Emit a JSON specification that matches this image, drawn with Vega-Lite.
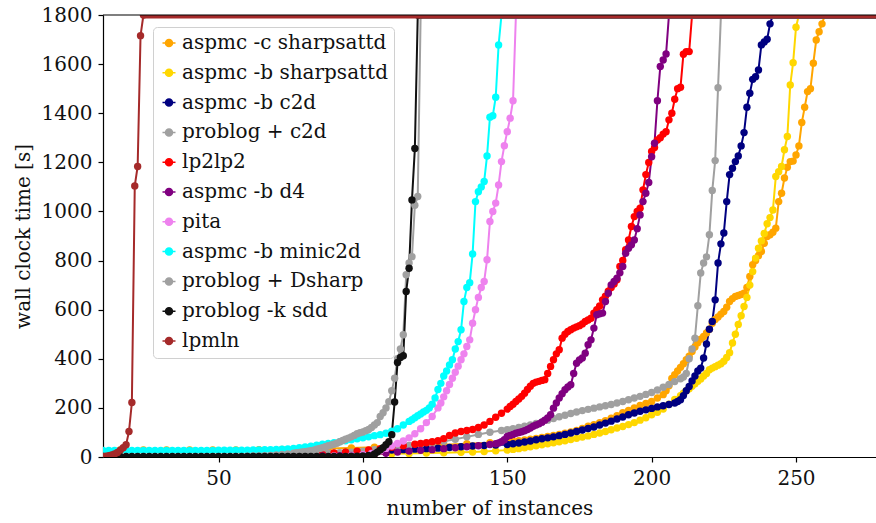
{
"$schema": "https://vega.github.io/schema/vega-lite/v6.json",
"width": 773, "height": 442,
"autosize": {"type": "none"},
"padding": {"left": 103, "top": 15, "right": 0, "bottom": 66},
"background": "white",
"config": {
 "view": {"stroke": null},
 "axis": {"grid": false, "domainColor": "#000000", "domainWidth": 1.2, "tickColor": "#000000", "tickWidth": 1.2, "tickSize": 5, "labelFont": "DejaVu Serif", "labelFontSize": 20, "labelColor": "#111111", "titleFont": "DejaVu Serif", "titleFontSize": 20, "titleFontWeight": "normal", "titleColor": "#111111"},
 "legend": {"orient": "none", "legendX": 50, "legendY": 12, "fillColor": "rgba(255,255,255,0.85)", "strokeColor": "#d0d0d0", "cornerRadius": 4, "padding": 6, "labelFont": "DejaVu Serif", "labelFontSize": 20, "labelLimit": 400, "labelColor": "#111111", "labelOffset": 3, "rowPadding": 9.8, "symbolType": "M-1,0H1M-0.54,0A0.54,0.54,0,1,1,0.54,0A0.54,0.54,0,1,1,-0.54,0Z", "symbolSize": 169, "symbolStrokeWidth": 1.5}
},
"datasets": {
"to": [
{"s":"aspmc -c sharpsattd","x":260},{"s":"aspmc -b sharpsattd","x":251},{"s":"aspmc -b c2d","x":242},{"s":"problog + c2d","x":224},{"s":"lp2lp2","x":214},{"s":"aspmc -b d4","x":206},{"s":"pita","x":153},{"s":"aspmc -b minic2d","x":148},{"s":"problog + Dsharp","x":120},{"s":"problog -k sdd","x":119},{"s":"lpmln","x":24}
],
"pts": [
{"s":"aspmc -c sharpsattd","x":8,"y":29},{"s":"aspmc -c sharpsattd","x":16,"y":29},{"s":"aspmc -c sharpsattd","x":24,"y":29},{"s":"aspmc -c sharpsattd","x":32,"y":29},{"s":"aspmc -c sharpsattd","x":40,"y":29},{"s":"aspmc -c sharpsattd","x":48,"y":29},{"s":"aspmc -c sharpsattd","x":56,"y":29},{"s":"aspmc -c sharpsattd","x":64,"y":30},{"s":"aspmc -c sharpsattd","x":72,"y":31},{"s":"aspmc -c sharpsattd","x":80,"y":33},{"s":"aspmc -c sharpsattd","x":88,"y":35},{"s":"aspmc -c sharpsattd","x":96,"y":37},{"s":"aspmc -c sharpsattd","x":104,"y":40},{"s":"aspmc -c sharpsattd","x":112,"y":43},{"s":"aspmc -c sharpsattd","x":120,"y":46},{"s":"aspmc -c sharpsattd","x":128,"y":50},{"s":"aspmc -c sharpsattd","x":136,"y":54},{"s":"aspmc -c sharpsattd","x":144,"y":58},{"s":"aspmc -c sharpsattd","x":150,"y":62},{"s":"aspmc -c sharpsattd","x":152,"y":64},{"s":"aspmc -c sharpsattd","x":154,"y":66},{"s":"aspmc -c sharpsattd","x":156,"y":69},{"s":"aspmc -c sharpsattd","x":158,"y":72},{"s":"aspmc -c sharpsattd","x":160,"y":76},{"s":"aspmc -c sharpsattd","x":162,"y":80},{"s":"aspmc -c sharpsattd","x":164,"y":84},{"s":"aspmc -c sharpsattd","x":166,"y":88},{"s":"aspmc -c sharpsattd","x":168,"y":92},{"s":"aspmc -c sharpsattd","x":170,"y":97},{"s":"aspmc -c sharpsattd","x":172,"y":102},{"s":"aspmc -c sharpsattd","x":174,"y":108},{"s":"aspmc -c sharpsattd","x":176,"y":116},{"s":"aspmc -c sharpsattd","x":178,"y":125},{"s":"aspmc -c sharpsattd","x":180,"y":132},{"s":"aspmc -c sharpsattd","x":182,"y":140},{"s":"aspmc -c sharpsattd","x":184,"y":148},{"s":"aspmc -c sharpsattd","x":186,"y":158},{"s":"aspmc -c sharpsattd","x":188,"y":168},{"s":"aspmc -c sharpsattd","x":190,"y":180},{"s":"aspmc -c sharpsattd","x":192,"y":190},{"s":"aspmc -c sharpsattd","x":194,"y":200},{"s":"aspmc -c sharpsattd","x":196,"y":210},{"s":"aspmc -c sharpsattd","x":198,"y":218},{"s":"aspmc -c sharpsattd","x":200,"y":226},{"s":"aspmc -c sharpsattd","x":202,"y":240},{"s":"aspmc -c sharpsattd","x":204,"y":254},{"s":"aspmc -c sharpsattd","x":205,"y":270},{"s":"aspmc -c sharpsattd","x":206,"y":290},{"s":"aspmc -c sharpsattd","x":207,"y":320},{"s":"aspmc -c sharpsattd","x":208,"y":335},{"s":"aspmc -c sharpsattd","x":209,"y":350},{"s":"aspmc -c sharpsattd","x":210,"y":365},{"s":"aspmc -c sharpsattd","x":211,"y":380},{"s":"aspmc -c sharpsattd","x":212,"y":396},{"s":"aspmc -c sharpsattd","x":213,"y":410},{"s":"aspmc -c sharpsattd","x":214,"y":430},{"s":"aspmc -c sharpsattd","x":215,"y":448},{"s":"aspmc -c sharpsattd","x":216,"y":465},{"s":"aspmc -c sharpsattd","x":217,"y":480},{"s":"aspmc -c sharpsattd","x":218,"y":491},{"s":"aspmc -c sharpsattd","x":219,"y":505},{"s":"aspmc -c sharpsattd","x":220,"y":520},{"s":"aspmc -c sharpsattd","x":221,"y":545},{"s":"aspmc -c sharpsattd","x":222,"y":560},{"s":"aspmc -c sharpsattd","x":223,"y":570},{"s":"aspmc -c sharpsattd","x":224,"y":582},{"s":"aspmc -c sharpsattd","x":225,"y":593},{"s":"aspmc -c sharpsattd","x":226,"y":610},{"s":"aspmc -c sharpsattd","x":227,"y":633},{"s":"aspmc -c sharpsattd","x":228,"y":645},{"s":"aspmc -c sharpsattd","x":229,"y":654},{"s":"aspmc -c sharpsattd","x":230,"y":658},{"s":"aspmc -c sharpsattd","x":231,"y":662},{"s":"aspmc -c sharpsattd","x":232,"y":667},{"s":"aspmc -c sharpsattd","x":233,"y":690},{"s":"aspmc -c sharpsattd","x":234,"y":735},{"s":"aspmc -c sharpsattd","x":235,"y":783},{"s":"aspmc -c sharpsattd","x":236,"y":800},{"s":"aspmc -c sharpsattd","x":237,"y":820},{"s":"aspmc -c sharpsattd","x":238,"y":837},{"s":"aspmc -c sharpsattd","x":239,"y":870},{"s":"aspmc -c sharpsattd","x":240,"y":898},{"s":"aspmc -c sharpsattd","x":241,"y":905},{"s":"aspmc -c sharpsattd","x":242,"y":915},{"s":"aspmc -c sharpsattd","x":243,"y":932},{"s":"aspmc -c sharpsattd","x":244,"y":1040},{"s":"aspmc -c sharpsattd","x":245,"y":1074},{"s":"aspmc -c sharpsattd","x":246,"y":1136},{"s":"aspmc -c sharpsattd","x":247,"y":1180},{"s":"aspmc -c sharpsattd","x":248,"y":1203},{"s":"aspmc -c sharpsattd","x":249,"y":1205},{"s":"aspmc -c sharpsattd","x":250,"y":1230},{"s":"aspmc -c sharpsattd","x":251,"y":1267},{"s":"aspmc -c sharpsattd","x":252,"y":1362},{"s":"aspmc -c sharpsattd","x":253,"y":1424},{"s":"aspmc -c sharpsattd","x":254,"y":1488},{"s":"aspmc -c sharpsattd","x":255,"y":1500},{"s":"aspmc -c sharpsattd","x":256,"y":1604},{"s":"aspmc -c sharpsattd","x":257,"y":1698},{"s":"aspmc -c sharpsattd","x":258,"y":1732},{"s":"aspmc -c sharpsattd","x":259,"y":1764},{"s":"aspmc -c sharpsattd","x":260,"y":1800},
{"s":"aspmc -b sharpsattd","x":86,"y":5},{"s":"aspmc -b sharpsattd","x":92,"y":8},{"s":"aspmc -b sharpsattd","x":98,"y":10},{"s":"aspmc -b sharpsattd","x":104,"y":12},{"s":"aspmc -b sharpsattd","x":110,"y":13},{"s":"aspmc -b sharpsattd","x":116,"y":14},{"s":"aspmc -b sharpsattd","x":122,"y":16},{"s":"aspmc -b sharpsattd","x":128,"y":17},{"s":"aspmc -b sharpsattd","x":134,"y":19},{"s":"aspmc -b sharpsattd","x":138,"y":20},{"s":"aspmc -b sharpsattd","x":142,"y":22},{"s":"aspmc -b sharpsattd","x":146,"y":25},{"s":"aspmc -b sharpsattd","x":150,"y":28},{"s":"aspmc -b sharpsattd","x":152,"y":31},{"s":"aspmc -b sharpsattd","x":154,"y":34},{"s":"aspmc -b sharpsattd","x":156,"y":38},{"s":"aspmc -b sharpsattd","x":158,"y":42},{"s":"aspmc -b sharpsattd","x":160,"y":46},{"s":"aspmc -b sharpsattd","x":162,"y":50},{"s":"aspmc -b sharpsattd","x":164,"y":54},{"s":"aspmc -b sharpsattd","x":166,"y":58},{"s":"aspmc -b sharpsattd","x":168,"y":62},{"s":"aspmc -b sharpsattd","x":170,"y":66},{"s":"aspmc -b sharpsattd","x":172,"y":71},{"s":"aspmc -b sharpsattd","x":174,"y":76},{"s":"aspmc -b sharpsattd","x":176,"y":81},{"s":"aspmc -b sharpsattd","x":178,"y":86},{"s":"aspmc -b sharpsattd","x":180,"y":92},{"s":"aspmc -b sharpsattd","x":182,"y":98},{"s":"aspmc -b sharpsattd","x":184,"y":104},{"s":"aspmc -b sharpsattd","x":186,"y":111},{"s":"aspmc -b sharpsattd","x":188,"y":118},{"s":"aspmc -b sharpsattd","x":190,"y":124},{"s":"aspmc -b sharpsattd","x":192,"y":132},{"s":"aspmc -b sharpsattd","x":194,"y":140},{"s":"aspmc -b sharpsattd","x":196,"y":150},{"s":"aspmc -b sharpsattd","x":198,"y":160},{"s":"aspmc -b sharpsattd","x":200,"y":172},{"s":"aspmc -b sharpsattd","x":202,"y":182},{"s":"aspmc -b sharpsattd","x":204,"y":195},{"s":"aspmc -b sharpsattd","x":206,"y":215},{"s":"aspmc -b sharpsattd","x":208,"y":234},{"s":"aspmc -b sharpsattd","x":210,"y":250},{"s":"aspmc -b sharpsattd","x":211,"y":260},{"s":"aspmc -b sharpsattd","x":212,"y":270},{"s":"aspmc -b sharpsattd","x":213,"y":278},{"s":"aspmc -b sharpsattd","x":214,"y":288},{"s":"aspmc -b sharpsattd","x":215,"y":298},{"s":"aspmc -b sharpsattd","x":216,"y":308},{"s":"aspmc -b sharpsattd","x":217,"y":318},{"s":"aspmc -b sharpsattd","x":218,"y":330},{"s":"aspmc -b sharpsattd","x":219,"y":340},{"s":"aspmc -b sharpsattd","x":220,"y":355},{"s":"aspmc -b sharpsattd","x":221,"y":362},{"s":"aspmc -b sharpsattd","x":222,"y":368},{"s":"aspmc -b sharpsattd","x":223,"y":374},{"s":"aspmc -b sharpsattd","x":224,"y":380},{"s":"aspmc -b sharpsattd","x":225,"y":390},{"s":"aspmc -b sharpsattd","x":226,"y":405},{"s":"aspmc -b sharpsattd","x":227,"y":425},{"s":"aspmc -b sharpsattd","x":228,"y":464},{"s":"aspmc -b sharpsattd","x":229,"y":500},{"s":"aspmc -b sharpsattd","x":230,"y":540},{"s":"aspmc -b sharpsattd","x":231,"y":575},{"s":"aspmc -b sharpsattd","x":232,"y":613},{"s":"aspmc -b sharpsattd","x":233,"y":650},{"s":"aspmc -b sharpsattd","x":234,"y":700},{"s":"aspmc -b sharpsattd","x":235,"y":755},{"s":"aspmc -b sharpsattd","x":236,"y":810},{"s":"aspmc -b sharpsattd","x":237,"y":850},{"s":"aspmc -b sharpsattd","x":238,"y":880},{"s":"aspmc -b sharpsattd","x":239,"y":910},{"s":"aspmc -b sharpsattd","x":240,"y":950},{"s":"aspmc -b sharpsattd","x":241,"y":975},{"s":"aspmc -b sharpsattd","x":242,"y":1006},{"s":"aspmc -b sharpsattd","x":243,"y":1142},{"s":"aspmc -b sharpsattd","x":244,"y":1162},{"s":"aspmc -b sharpsattd","x":245,"y":1183},{"s":"aspmc -b sharpsattd","x":246,"y":1251},{"s":"aspmc -b sharpsattd","x":247,"y":1305},{"s":"aspmc -b sharpsattd","x":248,"y":1515},{"s":"aspmc -b sharpsattd","x":249,"y":1606},{"s":"aspmc -b sharpsattd","x":250,"y":1750},{"s":"aspmc -b sharpsattd","x":251,"y":1800},
{"s":"aspmc -b c2d","x":86,"y":8},{"s":"aspmc -b c2d","x":90,"y":14},{"s":"aspmc -b c2d","x":94,"y":18},{"s":"aspmc -b c2d","x":98,"y":21},{"s":"aspmc -b c2d","x":102,"y":24},{"s":"aspmc -b c2d","x":106,"y":26},{"s":"aspmc -b c2d","x":110,"y":28},{"s":"aspmc -b c2d","x":114,"y":30},{"s":"aspmc -b c2d","x":118,"y":32},{"s":"aspmc -b c2d","x":122,"y":34},{"s":"aspmc -b c2d","x":126,"y":36},{"s":"aspmc -b c2d","x":130,"y":39},{"s":"aspmc -b c2d","x":134,"y":42},{"s":"aspmc -b c2d","x":138,"y":45},{"s":"aspmc -b c2d","x":142,"y":47},{"s":"aspmc -b c2d","x":146,"y":49},{"s":"aspmc -b c2d","x":150,"y":51},{"s":"aspmc -b c2d","x":152,"y":54},{"s":"aspmc -b c2d","x":154,"y":57},{"s":"aspmc -b c2d","x":156,"y":61},{"s":"aspmc -b c2d","x":158,"y":65},{"s":"aspmc -b c2d","x":160,"y":70},{"s":"aspmc -b c2d","x":162,"y":74},{"s":"aspmc -b c2d","x":164,"y":78},{"s":"aspmc -b c2d","x":166,"y":82},{"s":"aspmc -b c2d","x":168,"y":87},{"s":"aspmc -b c2d","x":170,"y":92},{"s":"aspmc -b c2d","x":172,"y":98},{"s":"aspmc -b c2d","x":174,"y":104},{"s":"aspmc -b c2d","x":176,"y":110},{"s":"aspmc -b c2d","x":178,"y":116},{"s":"aspmc -b c2d","x":180,"y":122},{"s":"aspmc -b c2d","x":182,"y":130},{"s":"aspmc -b c2d","x":184,"y":138},{"s":"aspmc -b c2d","x":186,"y":146},{"s":"aspmc -b c2d","x":188,"y":155},{"s":"aspmc -b c2d","x":190,"y":163},{"s":"aspmc -b c2d","x":192,"y":172},{"s":"aspmc -b c2d","x":194,"y":179},{"s":"aspmc -b c2d","x":196,"y":186},{"s":"aspmc -b c2d","x":198,"y":192},{"s":"aspmc -b c2d","x":200,"y":198},{"s":"aspmc -b c2d","x":202,"y":204},{"s":"aspmc -b c2d","x":204,"y":209},{"s":"aspmc -b c2d","x":206,"y":214},{"s":"aspmc -b c2d","x":208,"y":220},{"s":"aspmc -b c2d","x":209,"y":226},{"s":"aspmc -b c2d","x":210,"y":233},{"s":"aspmc -b c2d","x":211,"y":250},{"s":"aspmc -b c2d","x":212,"y":270},{"s":"aspmc -b c2d","x":213,"y":287},{"s":"aspmc -b c2d","x":214,"y":310},{"s":"aspmc -b c2d","x":215,"y":330},{"s":"aspmc -b c2d","x":216,"y":350},{"s":"aspmc -b c2d","x":217,"y":362},{"s":"aspmc -b c2d","x":218,"y":403},{"s":"aspmc -b c2d","x":219,"y":460},{"s":"aspmc -b c2d","x":220,"y":520},{"s":"aspmc -b c2d","x":221,"y":552},{"s":"aspmc -b c2d","x":222,"y":640},{"s":"aspmc -b c2d","x":223,"y":790},{"s":"aspmc -b c2d","x":224,"y":868},{"s":"aspmc -b c2d","x":225,"y":912},{"s":"aspmc -b c2d","x":226,"y":1040},{"s":"aspmc -b c2d","x":227,"y":1150},{"s":"aspmc -b c2d","x":228,"y":1176},{"s":"aspmc -b c2d","x":229,"y":1203},{"s":"aspmc -b c2d","x":230,"y":1226},{"s":"aspmc -b c2d","x":231,"y":1267},{"s":"aspmc -b c2d","x":232,"y":1321},{"s":"aspmc -b c2d","x":233,"y":1424},{"s":"aspmc -b c2d","x":234,"y":1481},{"s":"aspmc -b c2d","x":235,"y":1538},{"s":"aspmc -b c2d","x":236,"y":1549},{"s":"aspmc -b c2d","x":237,"y":1576},{"s":"aspmc -b c2d","x":238,"y":1678},{"s":"aspmc -b c2d","x":239,"y":1690},{"s":"aspmc -b c2d","x":240,"y":1701},{"s":"aspmc -b c2d","x":241,"y":1764},{"s":"aspmc -b c2d","x":242,"y":1800},
{"s":"problog + c2d","x":50,"y":2},{"s":"problog + c2d","x":60,"y":3},{"s":"problog + c2d","x":70,"y":6},{"s":"problog + c2d","x":76,"y":9},{"s":"problog + c2d","x":80,"y":11},{"s":"problog + c2d","x":84,"y":13},{"s":"problog + c2d","x":88,"y":15},{"s":"problog + c2d","x":92,"y":17},{"s":"problog + c2d","x":96,"y":20},{"s":"problog + c2d","x":100,"y":24},{"s":"problog + c2d","x":104,"y":30},{"s":"problog + c2d","x":108,"y":37},{"s":"problog + c2d","x":112,"y":42},{"s":"problog + c2d","x":116,"y":47},{"s":"problog + c2d","x":120,"y":52},{"s":"problog + c2d","x":124,"y":57},{"s":"problog + c2d","x":128,"y":64},{"s":"problog + c2d","x":132,"y":72},{"s":"problog + c2d","x":136,"y":82},{"s":"problog + c2d","x":140,"y":92},{"s":"problog + c2d","x":144,"y":101},{"s":"problog + c2d","x":148,"y":108},{"s":"problog + c2d","x":150,"y":111},{"s":"problog + c2d","x":152,"y":115},{"s":"problog + c2d","x":154,"y":120},{"s":"problog + c2d","x":156,"y":125},{"s":"problog + c2d","x":158,"y":130},{"s":"problog + c2d","x":160,"y":137},{"s":"problog + c2d","x":162,"y":143},{"s":"problog + c2d","x":164,"y":150},{"s":"problog + c2d","x":166,"y":157},{"s":"problog + c2d","x":168,"y":164},{"s":"problog + c2d","x":170,"y":170},{"s":"problog + c2d","x":172,"y":177},{"s":"problog + c2d","x":174,"y":183},{"s":"problog + c2d","x":176,"y":189},{"s":"problog + c2d","x":178,"y":194},{"s":"problog + c2d","x":180,"y":199},{"s":"problog + c2d","x":182,"y":204},{"s":"problog + c2d","x":184,"y":209},{"s":"problog + c2d","x":186,"y":214},{"s":"problog + c2d","x":188,"y":220},{"s":"problog + c2d","x":190,"y":226},{"s":"problog + c2d","x":192,"y":233},{"s":"problog + c2d","x":194,"y":240},{"s":"problog + c2d","x":196,"y":247},{"s":"problog + c2d","x":198,"y":255},{"s":"problog + c2d","x":200,"y":263},{"s":"problog + c2d","x":202,"y":273},{"s":"problog + c2d","x":204,"y":284},{"s":"problog + c2d","x":206,"y":295},{"s":"problog + c2d","x":208,"y":307},{"s":"problog + c2d","x":210,"y":319},{"s":"problog + c2d","x":211,"y":326},{"s":"problog + c2d","x":212,"y":340},{"s":"problog + c2d","x":213,"y":400},{"s":"problog + c2d","x":214,"y":440},{"s":"problog + c2d","x":215,"y":484},{"s":"problog + c2d","x":216,"y":616},{"s":"problog + c2d","x":217,"y":749},{"s":"problog + c2d","x":218,"y":790},{"s":"problog + c2d","x":219,"y":815},{"s":"problog + c2d","x":220,"y":905},{"s":"problog + c2d","x":221,"y":1085},{"s":"problog + c2d","x":222,"y":1207},{"s":"problog + c2d","x":223,"y":1504},{"s":"problog + c2d","x":224,"y":1800},
{"s":"lp2lp2","x":86,"y":10},{"s":"lp2lp2","x":90,"y":16},{"s":"lp2lp2","x":94,"y":20},{"s":"lp2lp2","x":98,"y":24},{"s":"lp2lp2","x":102,"y":29},{"s":"lp2lp2","x":106,"y":34},{"s":"lp2lp2","x":110,"y":40},{"s":"lp2lp2","x":114,"y":46},{"s":"lp2lp2","x":118,"y":52},{"s":"lp2lp2","x":120,"y":55},{"s":"lp2lp2","x":122,"y":58},{"s":"lp2lp2","x":124,"y":62},{"s":"lp2lp2","x":126,"y":66},{"s":"lp2lp2","x":128,"y":75},{"s":"lp2lp2","x":130,"y":88},{"s":"lp2lp2","x":132,"y":98},{"s":"lp2lp2","x":134,"y":104},{"s":"lp2lp2","x":136,"y":108},{"s":"lp2lp2","x":138,"y":112},{"s":"lp2lp2","x":140,"y":120},{"s":"lp2lp2","x":142,"y":130},{"s":"lp2lp2","x":144,"y":145},{"s":"lp2lp2","x":146,"y":162},{"s":"lp2lp2","x":148,"y":178},{"s":"lp2lp2","x":150,"y":195},{"s":"lp2lp2","x":151,"y":206},{"s":"lp2lp2","x":152,"y":215},{"s":"lp2lp2","x":153,"y":226},{"s":"lp2lp2","x":154,"y":236},{"s":"lp2lp2","x":155,"y":247},{"s":"lp2lp2","x":156,"y":260},{"s":"lp2lp2","x":157,"y":275},{"s":"lp2lp2","x":158,"y":288},{"s":"lp2lp2","x":159,"y":300},{"s":"lp2lp2","x":160,"y":305},{"s":"lp2lp2","x":161,"y":308},{"s":"lp2lp2","x":162,"y":312},{"s":"lp2lp2","x":163,"y":315},{"s":"lp2lp2","x":164,"y":340},{"s":"lp2lp2","x":165,"y":369},{"s":"lp2lp2","x":166,"y":396},{"s":"lp2lp2","x":167,"y":420},{"s":"lp2lp2","x":168,"y":437},{"s":"lp2lp2","x":169,"y":484},{"s":"lp2lp2","x":170,"y":500},{"s":"lp2lp2","x":171,"y":511},{"s":"lp2lp2","x":172,"y":518},{"s":"lp2lp2","x":173,"y":525},{"s":"lp2lp2","x":174,"y":530},{"s":"lp2lp2","x":175,"y":535},{"s":"lp2lp2","x":176,"y":542},{"s":"lp2lp2","x":177,"y":552},{"s":"lp2lp2","x":178,"y":558},{"s":"lp2lp2","x":179,"y":565},{"s":"lp2lp2","x":180,"y":586},{"s":"lp2lp2","x":181,"y":600},{"s":"lp2lp2","x":182,"y":615},{"s":"lp2lp2","x":183,"y":640},{"s":"lp2lp2","x":184,"y":655},{"s":"lp2lp2","x":185,"y":675},{"s":"lp2lp2","x":186,"y":690},{"s":"lp2lp2","x":187,"y":705},{"s":"lp2lp2","x":188,"y":722},{"s":"lp2lp2","x":189,"y":776},{"s":"lp2lp2","x":190,"y":800},{"s":"lp2lp2","x":191,"y":844},{"s":"lp2lp2","x":192,"y":884},{"s":"lp2lp2","x":193,"y":939},{"s":"lp2lp2","x":194,"y":979},{"s":"lp2lp2","x":195,"y":1000},{"s":"lp2lp2","x":196,"y":1013},{"s":"lp2lp2","x":197,"y":1088},{"s":"lp2lp2","x":198,"y":1150},{"s":"lp2lp2","x":199,"y":1199},{"s":"lp2lp2","x":200,"y":1244},{"s":"lp2lp2","x":201,"y":1260},{"s":"lp2lp2","x":202,"y":1291},{"s":"lp2lp2","x":203,"y":1300},{"s":"lp2lp2","x":204,"y":1315},{"s":"lp2lp2","x":205,"y":1325},{"s":"lp2lp2","x":206,"y":1373},{"s":"lp2lp2","x":207,"y":1400},{"s":"lp2lp2","x":208,"y":1457},{"s":"lp2lp2","x":209,"y":1500},{"s":"lp2lp2","x":210,"y":1506},{"s":"lp2lp2","x":211,"y":1640},{"s":"lp2lp2","x":212,"y":1651},{"s":"lp2lp2","x":213,"y":1651},{"s":"lp2lp2","x":214,"y":1800},
{"s":"aspmc -b d4","x":86,"y":4},{"s":"aspmc -b d4","x":92,"y":5},{"s":"aspmc -b d4","x":96,"y":6},{"s":"aspmc -b d4","x":100,"y":8},{"s":"aspmc -b d4","x":104,"y":11},{"s":"aspmc -b d4","x":108,"y":15},{"s":"aspmc -b d4","x":112,"y":20},{"s":"aspmc -b d4","x":116,"y":24},{"s":"aspmc -b d4","x":120,"y":27},{"s":"aspmc -b d4","x":124,"y":30},{"s":"aspmc -b d4","x":128,"y":34},{"s":"aspmc -b d4","x":132,"y":38},{"s":"aspmc -b d4","x":136,"y":42},{"s":"aspmc -b d4","x":140,"y":46},{"s":"aspmc -b d4","x":144,"y":51},{"s":"aspmc -b d4","x":146,"y":54},{"s":"aspmc -b d4","x":147,"y":57},{"s":"aspmc -b d4","x":148,"y":62},{"s":"aspmc -b d4","x":149,"y":70},{"s":"aspmc -b d4","x":150,"y":84},{"s":"aspmc -b d4","x":151,"y":88},{"s":"aspmc -b d4","x":152,"y":92},{"s":"aspmc -b d4","x":153,"y":97},{"s":"aspmc -b d4","x":154,"y":100},{"s":"aspmc -b d4","x":155,"y":103},{"s":"aspmc -b d4","x":156,"y":107},{"s":"aspmc -b d4","x":157,"y":112},{"s":"aspmc -b d4","x":158,"y":118},{"s":"aspmc -b d4","x":159,"y":125},{"s":"aspmc -b d4","x":160,"y":130},{"s":"aspmc -b d4","x":161,"y":135},{"s":"aspmc -b d4","x":162,"y":142},{"s":"aspmc -b d4","x":163,"y":150},{"s":"aspmc -b d4","x":164,"y":159},{"s":"aspmc -b d4","x":165,"y":172},{"s":"aspmc -b d4","x":166,"y":199},{"s":"aspmc -b d4","x":167,"y":220},{"s":"aspmc -b d4","x":168,"y":240},{"s":"aspmc -b d4","x":169,"y":258},{"s":"aspmc -b d4","x":170,"y":274},{"s":"aspmc -b d4","x":171,"y":285},{"s":"aspmc -b d4","x":172,"y":294},{"s":"aspmc -b d4","x":173,"y":340},{"s":"aspmc -b d4","x":174,"y":382},{"s":"aspmc -b d4","x":175,"y":395},{"s":"aspmc -b d4","x":176,"y":403},{"s":"aspmc -b d4","x":177,"y":423},{"s":"aspmc -b d4","x":178,"y":457},{"s":"aspmc -b d4","x":179,"y":477},{"s":"aspmc -b d4","x":180,"y":525},{"s":"aspmc -b d4","x":181,"y":579},{"s":"aspmc -b d4","x":182,"y":583},{"s":"aspmc -b d4","x":183,"y":586},{"s":"aspmc -b d4","x":184,"y":633},{"s":"aspmc -b d4","x":185,"y":667},{"s":"aspmc -b d4","x":186,"y":701},{"s":"aspmc -b d4","x":187,"y":715},{"s":"aspmc -b d4","x":188,"y":728},{"s":"aspmc -b d4","x":189,"y":750},{"s":"aspmc -b d4","x":190,"y":776},{"s":"aspmc -b d4","x":191,"y":830},{"s":"aspmc -b d4","x":192,"y":850},{"s":"aspmc -b d4","x":193,"y":864},{"s":"aspmc -b d4","x":194,"y":884},{"s":"aspmc -b d4","x":195,"y":930},{"s":"aspmc -b d4","x":196,"y":986},{"s":"aspmc -b d4","x":197,"y":1040},{"s":"aspmc -b d4","x":198,"y":1074},{"s":"aspmc -b d4","x":199,"y":1118},{"s":"aspmc -b d4","x":200,"y":1223},{"s":"aspmc -b d4","x":201,"y":1278},{"s":"aspmc -b d4","x":202,"y":1451},{"s":"aspmc -b d4","x":203,"y":1590},{"s":"aspmc -b d4","x":204,"y":1617},{"s":"aspmc -b d4","x":205,"y":1641},{"s":"aspmc -b d4","x":206,"y":1800},
{"s":"pita","x":90,"y":4},{"s":"pita","x":96,"y":6},{"s":"pita","x":100,"y":9},{"s":"pita","x":103,"y":14},{"s":"pita","x":106,"y":25},{"s":"pita","x":108,"y":35},{"s":"pita","x":110,"y":45},{"s":"pita","x":112,"y":55},{"s":"pita","x":114,"y":65},{"s":"pita","x":116,"y":78},{"s":"pita","x":118,"y":95},{"s":"pita","x":120,"y":115},{"s":"pita","x":122,"y":140},{"s":"pita","x":124,"y":165},{"s":"pita","x":126,"y":200},{"s":"pita","x":127,"y":220},{"s":"pita","x":128,"y":245},{"s":"pita","x":129,"y":270},{"s":"pita","x":130,"y":295},{"s":"pita","x":131,"y":321},{"s":"pita","x":132,"y":345},{"s":"pita","x":133,"y":370},{"s":"pita","x":134,"y":396},{"s":"pita","x":135,"y":420},{"s":"pita","x":136,"y":450},{"s":"pita","x":137,"y":477},{"s":"pita","x":138,"y":545},{"s":"pita","x":139,"y":600},{"s":"pita","x":140,"y":650},{"s":"pita","x":141,"y":690},{"s":"pita","x":142,"y":715},{"s":"pita","x":143,"y":803},{"s":"pita","x":144,"y":959},{"s":"pita","x":145,"y":1000},{"s":"pita","x":146,"y":1034},{"s":"pita","x":147,"y":1108},{"s":"pita","x":148,"y":1203},{"s":"pita","x":149,"y":1268},{"s":"pita","x":150,"y":1325},{"s":"pita","x":151,"y":1380},{"s":"pita","x":152,"y":1451},{"s":"pita","x":153,"y":1800},
{"s":"aspmc -b minic2d","x":8,"y":27},{"s":"aspmc -b minic2d","x":10,"y":27},{"s":"aspmc -b minic2d","x":12,"y":27},{"s":"aspmc -b minic2d","x":14,"y":27},{"s":"aspmc -b minic2d","x":16,"y":27},{"s":"aspmc -b minic2d","x":18,"y":27},{"s":"aspmc -b minic2d","x":20,"y":27},{"s":"aspmc -b minic2d","x":22,"y":27},{"s":"aspmc -b minic2d","x":24,"y":27},{"s":"aspmc -b minic2d","x":26,"y":27},{"s":"aspmc -b minic2d","x":28,"y":27},{"s":"aspmc -b minic2d","x":30,"y":27},{"s":"aspmc -b minic2d","x":32,"y":27},{"s":"aspmc -b minic2d","x":34,"y":27},{"s":"aspmc -b minic2d","x":36,"y":27},{"s":"aspmc -b minic2d","x":38,"y":27},{"s":"aspmc -b minic2d","x":40,"y":27},{"s":"aspmc -b minic2d","x":42,"y":27},{"s":"aspmc -b minic2d","x":44,"y":27},{"s":"aspmc -b minic2d","x":46,"y":27},{"s":"aspmc -b minic2d","x":48,"y":27},{"s":"aspmc -b minic2d","x":50,"y":28},{"s":"aspmc -b minic2d","x":52,"y":28},{"s":"aspmc -b minic2d","x":54,"y":28},{"s":"aspmc -b minic2d","x":56,"y":28},{"s":"aspmc -b minic2d","x":58,"y":28},{"s":"aspmc -b minic2d","x":60,"y":28},{"s":"aspmc -b minic2d","x":62,"y":29},{"s":"aspmc -b minic2d","x":64,"y":29},{"s":"aspmc -b minic2d","x":66,"y":30},{"s":"aspmc -b minic2d","x":68,"y":30},{"s":"aspmc -b minic2d","x":70,"y":31},{"s":"aspmc -b minic2d","x":72,"y":32},{"s":"aspmc -b minic2d","x":74,"y":33},{"s":"aspmc -b minic2d","x":76,"y":35},{"s":"aspmc -b minic2d","x":78,"y":38},{"s":"aspmc -b minic2d","x":80,"y":41},{"s":"aspmc -b minic2d","x":82,"y":44},{"s":"aspmc -b minic2d","x":84,"y":48},{"s":"aspmc -b minic2d","x":86,"y":52},{"s":"aspmc -b minic2d","x":88,"y":55},{"s":"aspmc -b minic2d","x":90,"y":58},{"s":"aspmc -b minic2d","x":92,"y":62},{"s":"aspmc -b minic2d","x":94,"y":66},{"s":"aspmc -b minic2d","x":96,"y":70},{"s":"aspmc -b minic2d","x":98,"y":74},{"s":"aspmc -b minic2d","x":100,"y":78},{"s":"aspmc -b minic2d","x":102,"y":82},{"s":"aspmc -b minic2d","x":104,"y":87},{"s":"aspmc -b minic2d","x":106,"y":91},{"s":"aspmc -b minic2d","x":108,"y":97},{"s":"aspmc -b minic2d","x":110,"y":105},{"s":"aspmc -b minic2d","x":112,"y":115},{"s":"aspmc -b minic2d","x":114,"y":130},{"s":"aspmc -b minic2d","x":116,"y":145},{"s":"aspmc -b minic2d","x":117,"y":152},{"s":"aspmc -b minic2d","x":118,"y":160},{"s":"aspmc -b minic2d","x":119,"y":168},{"s":"aspmc -b minic2d","x":120,"y":175},{"s":"aspmc -b minic2d","x":121,"y":183},{"s":"aspmc -b minic2d","x":122,"y":190},{"s":"aspmc -b minic2d","x":123,"y":200},{"s":"aspmc -b minic2d","x":124,"y":215},{"s":"aspmc -b minic2d","x":125,"y":240},{"s":"aspmc -b minic2d","x":126,"y":275},{"s":"aspmc -b minic2d","x":127,"y":300},{"s":"aspmc -b minic2d","x":128,"y":330},{"s":"aspmc -b minic2d","x":129,"y":350},{"s":"aspmc -b minic2d","x":130,"y":375},{"s":"aspmc -b minic2d","x":131,"y":396},{"s":"aspmc -b minic2d","x":132,"y":440},{"s":"aspmc -b minic2d","x":133,"y":470},{"s":"aspmc -b minic2d","x":134,"y":518},{"s":"aspmc -b minic2d","x":135,"y":633},{"s":"aspmc -b minic2d","x":136,"y":690},{"s":"aspmc -b minic2d","x":137,"y":710},{"s":"aspmc -b minic2d","x":138,"y":827},{"s":"aspmc -b minic2d","x":139,"y":1040},{"s":"aspmc -b minic2d","x":140,"y":1080},{"s":"aspmc -b minic2d","x":141,"y":1100},{"s":"aspmc -b minic2d","x":142,"y":1122},{"s":"aspmc -b minic2d","x":143,"y":1226},{"s":"aspmc -b minic2d","x":144,"y":1384},{"s":"aspmc -b minic2d","x":145,"y":1390},{"s":"aspmc -b minic2d","x":146,"y":1465},{"s":"aspmc -b minic2d","x":147,"y":1678},{"s":"aspmc -b minic2d","x":148,"y":1800},
{"s":"problog + Dsharp","x":60,"y":3},{"s":"problog + Dsharp","x":62,"y":4},{"s":"problog + Dsharp","x":64,"y":4},{"s":"problog + Dsharp","x":66,"y":5},{"s":"problog + Dsharp","x":68,"y":6},{"s":"problog + Dsharp","x":70,"y":8},{"s":"problog + Dsharp","x":72,"y":10},{"s":"problog + Dsharp","x":74,"y":12},{"s":"problog + Dsharp","x":76,"y":15},{"s":"problog + Dsharp","x":77,"y":17},{"s":"problog + Dsharp","x":78,"y":19},{"s":"problog + Dsharp","x":79,"y":21},{"s":"problog + Dsharp","x":80,"y":22},{"s":"problog + Dsharp","x":81,"y":24},{"s":"problog + Dsharp","x":82,"y":26},{"s":"problog + Dsharp","x":83,"y":28},{"s":"problog + Dsharp","x":84,"y":32},{"s":"problog + Dsharp","x":85,"y":35},{"s":"problog + Dsharp","x":86,"y":38},{"s":"problog + Dsharp","x":87,"y":42},{"s":"problog + Dsharp","x":88,"y":46},{"s":"problog + Dsharp","x":89,"y":49},{"s":"problog + Dsharp","x":90,"y":52},{"s":"problog + Dsharp","x":91,"y":56},{"s":"problog + Dsharp","x":92,"y":62},{"s":"problog + Dsharp","x":93,"y":67},{"s":"problog + Dsharp","x":94,"y":72},{"s":"problog + Dsharp","x":95,"y":77},{"s":"problog + Dsharp","x":96,"y":82},{"s":"problog + Dsharp","x":97,"y":88},{"s":"problog + Dsharp","x":98,"y":95},{"s":"problog + Dsharp","x":99,"y":99},{"s":"problog + Dsharp","x":100,"y":102},{"s":"problog + Dsharp","x":101,"y":107},{"s":"problog + Dsharp","x":102,"y":112},{"s":"problog + Dsharp","x":103,"y":120},{"s":"problog + Dsharp","x":104,"y":130},{"s":"problog + Dsharp","x":105,"y":140},{"s":"problog + Dsharp","x":106,"y":165},{"s":"problog + Dsharp","x":107,"y":180},{"s":"problog + Dsharp","x":108,"y":200},{"s":"problog + Dsharp","x":109,"y":225},{"s":"problog + Dsharp","x":110,"y":270},{"s":"problog + Dsharp","x":111,"y":321},{"s":"problog + Dsharp","x":112,"y":400},{"s":"problog + Dsharp","x":113,"y":440},{"s":"problog + Dsharp","x":114,"y":498},{"s":"problog + Dsharp","x":115,"y":742},{"s":"problog + Dsharp","x":116,"y":790},{"s":"problog + Dsharp","x":117,"y":816},{"s":"problog + Dsharp","x":118,"y":1025},{"s":"problog + Dsharp","x":119,"y":1061},{"s":"problog + Dsharp","x":120,"y":1800},
{"s":"problog -k sdd","x":8,"y":2},{"s":"problog -k sdd","x":10,"y":2},{"s":"problog -k sdd","x":12,"y":2},{"s":"problog -k sdd","x":14,"y":2},{"s":"problog -k sdd","x":16,"y":2},{"s":"problog -k sdd","x":18,"y":2},{"s":"problog -k sdd","x":20,"y":2},{"s":"problog -k sdd","x":22,"y":2},{"s":"problog -k sdd","x":24,"y":2},{"s":"problog -k sdd","x":26,"y":2},{"s":"problog -k sdd","x":28,"y":2},{"s":"problog -k sdd","x":30,"y":2},{"s":"problog -k sdd","x":32,"y":2},{"s":"problog -k sdd","x":34,"y":2},{"s":"problog -k sdd","x":36,"y":2},{"s":"problog -k sdd","x":38,"y":2},{"s":"problog -k sdd","x":40,"y":2},{"s":"problog -k sdd","x":42,"y":2},{"s":"problog -k sdd","x":44,"y":2},{"s":"problog -k sdd","x":46,"y":2},{"s":"problog -k sdd","x":48,"y":2},{"s":"problog -k sdd","x":50,"y":2},{"s":"problog -k sdd","x":52,"y":2},{"s":"problog -k sdd","x":54,"y":2},{"s":"problog -k sdd","x":56,"y":2},{"s":"problog -k sdd","x":58,"y":2},{"s":"problog -k sdd","x":60,"y":2},{"s":"problog -k sdd","x":62,"y":2},{"s":"problog -k sdd","x":64,"y":2},{"s":"problog -k sdd","x":66,"y":2},{"s":"problog -k sdd","x":68,"y":2},{"s":"problog -k sdd","x":70,"y":2},{"s":"problog -k sdd","x":72,"y":2},{"s":"problog -k sdd","x":74,"y":2},{"s":"problog -k sdd","x":76,"y":2},{"s":"problog -k sdd","x":78,"y":2},{"s":"problog -k sdd","x":80,"y":2},{"s":"problog -k sdd","x":82,"y":2},{"s":"problog -k sdd","x":84,"y":2},{"s":"problog -k sdd","x":86,"y":2},{"s":"problog -k sdd","x":88,"y":2},{"s":"problog -k sdd","x":90,"y":2},{"s":"problog -k sdd","x":92,"y":2},{"s":"problog -k sdd","x":94,"y":2},{"s":"problog -k sdd","x":96,"y":3},{"s":"problog -k sdd","x":98,"y":3},{"s":"problog -k sdd","x":100,"y":4},{"s":"problog -k sdd","x":102,"y":6},{"s":"problog -k sdd","x":104,"y":12},{"s":"problog -k sdd","x":105,"y":20},{"s":"problog -k sdd","x":106,"y":28},{"s":"problog -k sdd","x":107,"y":38},{"s":"problog -k sdd","x":108,"y":50},{"s":"problog -k sdd","x":109,"y":62},{"s":"problog -k sdd","x":110,"y":91},{"s":"problog -k sdd","x":111,"y":224},{"s":"problog -k sdd","x":112,"y":385},{"s":"problog -k sdd","x":113,"y":405},{"s":"problog -k sdd","x":114,"y":412},{"s":"problog -k sdd","x":115,"y":674},{"s":"problog -k sdd","x":116,"y":769},{"s":"problog -k sdd","x":117,"y":1047},{"s":"problog -k sdd","x":118,"y":1256},{"s":"problog -k sdd","x":119,"y":1800},
{"s":"lpmln","x":8,"y":1},{"s":"lpmln","x":9,"y":1},{"s":"lpmln","x":10,"y":2},{"s":"lpmln","x":11,"y":3},{"s":"lpmln","x":12,"y":5},{"s":"lpmln","x":13,"y":8},{"s":"lpmln","x":14,"y":12},{"s":"lpmln","x":15,"y":18},{"s":"lpmln","x":16,"y":28},{"s":"lpmln","x":17,"y":38},{"s":"lpmln","x":18,"y":50},{"s":"lpmln","x":19,"y":104},{"s":"lpmln","x":20,"y":222},{"s":"lpmln","x":21,"y":1104},{"s":"lpmln","x":22,"y":1183},{"s":"lpmln","x":23,"y":1716},{"s":"lpmln","x":24,"y":1800}
]
},
"layer": [
 {"data": {"name": "pts"},
  "mark": {"type": "line", "strokeWidth": 2, "clip": true},
  "encoding": {
   "x": {"field": "x", "type": "quantitative", "scale": {"domain": [10, 277.7], "nice": false, "zero": false}, "axis": {"values": [50, 100, 150, 200, 250], "format": "d", "title": "number of instances", "labelPadding": 6, "titlePadding": 10}},
   "y": {"field": "y", "type": "quantitative", "scale": {"domain": [0, 1800], "nice": false}, "axis": {"values": [0, 200, 400, 600, 800, 1000, 1200, 1400, 1600, 1800], "format": "d", "title": "wall clock time [s]", "labelPadding": 6, "titlePadding": 8}},
   "color": {"field": "s", "type": "nominal", "title": null,
    "scale": {"domain": ["aspmc -c sharpsattd", "aspmc -b sharpsattd", "aspmc -b c2d", "problog + c2d", "lp2lp2", "aspmc -b d4", "pita", "aspmc -b minic2d", "problog + Dsharp", "problog -k sdd", "lpmln"],
     "range": ["#ffa500", "#ffd700", "#000080", "#a0a0a0", "#ff0000", "#800080", "#ee82ee", "#00ffff", "#a0a0a0", "#111111", "#a52a2a"]}}
  }},
 {"data": {"name": "pts"},
  "mark": {"type": "point", "filled": true, "size": 55, "opacity": 1, "clip": true},
  "encoding": {
   "x": {"field": "x", "type": "quantitative"},
   "y": {"field": "y", "type": "quantitative"},
   "color": {"field": "s", "type": "nominal", "title": null}
  }},
 {"data": {"name": "to"},
  "mark": {"type": "rule", "strokeWidth": 7, "clip": true},
  "encoding": {
   "x": {"field": "x", "type": "quantitative"},
   "x2": {"datum": 290},
   "y": {"datum": 1800},
   "color": {"field": "s", "type": "nominal", "title": null}
  }},
 {"data": {"values": [{}]},
  "mark": {"type": "rule", "color": "#000000", "strokeWidth": 1.2},
  "encoding": {"y": {"datum": 1800}}}
]
}
